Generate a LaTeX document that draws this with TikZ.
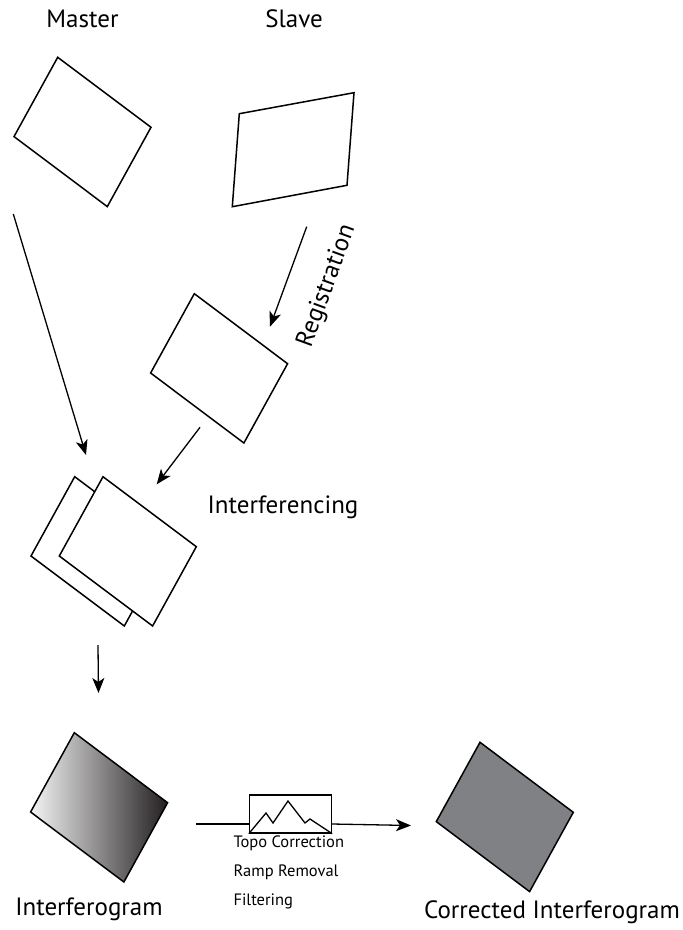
\documentclass[tikz,border=0pt]{standalone}
\usepackage{fontspec}
\setmainfont{PT Sans}
\usetikzlibrary{arrows.meta}
\definecolor{fixedgray}{HTML}{808184}
\definecolor{darkend}{HTML}{231F20}

\begin{document}
\begin{tikzpicture}[x=1pt, y=-1pt,
	every node/.style={font=\fontsize{25}{30}\selectfont, anchor=base},
	scenebox/.style={draw, line width=1.5pt, fill=white, line join=miter},
	flow/.style={line width=1.3pt, -{Stealth[length=15pt, width=12pt, inset=4pt]}},
	steplabel/.style={font=\fontsize{16.5}{20}\selectfont, anchor=base west}]
	\useasboundingbox (0,0) rectangle (683,930);
	\node (mastertxt) at (82.5,27.3) {Master};
	\node (slavetxt) at (294,27.3) {Slave};
	\draw[scenebox] (57.7,57.3) -- ++(93.3,70) -- ++(-43.7,79.3) -- ++(-93.3,-70) -- cycle;
	\draw[scenebox] (239.3,113.7) -- (354,92.7) -- (347,185.3) -- (232.3,206.7) -- cycle;
	\draw[scenebox] (194.3,293.7) -- ++(93.3,70) -- ++(-43.7,79.3) -- ++(-93.3,-70) -- cycle;
	\node[rotate=70, anchor=center] (regtxt) at (327,286) {Registration};
	\draw[scenebox] (74.7,476.7) -- ++(93.3,70) -- ++(-43.7,79.3) -- ++(-93.3,-70) -- cycle;
	\draw[scenebox] (103,476.7) -- ++(93.3,70) -- ++(-43.7,79.3) -- ++(-93.3,-70) -- cycle;
	\node (inttxt) at (283,513) {Interferencing};
	\draw[scenebox, left color=white!96!black, right color=darkend] (74.3,732.7) -- ++(93.3,70) -- ++(-43.7,79.3) -- ++(-93.3,-70) -- cycle;
	\node (gramtxt) at (89,915) {Interferogram};
	\draw[scenebox, fill=fixedgray] (480,742.3) -- ++(93.3,70) -- ++(-43.7,79.3) -- ++(-93.3,-70) -- cycle;
	\node (fixedtxt) at (552,918.3) {Corrected Interferogram};
	\coordinate (m-from) at (13.3,214);
	\coordinate (m-to) at (86,455);
	\coordinate (s-from) at (306.7,226.7);
	\coordinate (s-to) at (270,326.7);
	\coordinate (r-from) at (200,427.3);
	\coordinate (r-to) at (156.7,484.3);
	\coordinate (i-from) at (98,645);
	\coordinate (i-to) at (98.5,693);
	\draw[flow] (m-from) -- (m-to);
	\draw[flow] (s-from) -- (s-to);
	\draw[flow] (r-from) -- (r-to);
	\draw[flow] (i-from) -- (i-to);
	\node[draw, line width=1.3pt, minimum width=82pt, minimum height=38pt, inner sep=0pt, anchor=center] (filter) at (290.5,814) {};
	\draw[line width=1.3pt, line join=miter] (filter.south west) -- (266,813) -- (273,823) -- (288,801) -- (305,823) -- (310,819) -- (filter.south east);
	\coordinate (g-out) at (196,824);
	\coordinate (f-in) at (411,825.5);
	\draw[line width=1.3pt] (g-out) -- (g-out -| filter.west);
	\draw[flow] (filter.east |- g-out) -- (f-in);
	\node[steplabel] (topo) at (230,847.3) {Topo Correction};
	\node[steplabel] (ramp) at (230,876) {Ramp Removal};
	\node[steplabel] (filt) at (230,905) {Filtering};
\end{tikzpicture}
\end{document}
